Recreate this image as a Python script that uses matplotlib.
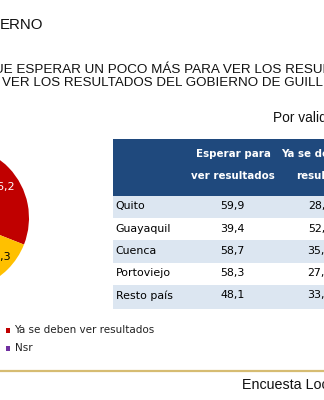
import matplotlib
matplotlib.use("Agg")
import matplotlib.pyplot as plt
from matplotlib.patches import Rectangle
import numpy as np

# ---- data ----
pie_labels = ["Ya se deben ver resultados", "Nsr", "Esperar para ver resultados"]
pie_values = [36.2, 11.5, 52.3]
pie_colors = ["#C00000", "#7030A0", "#FFC000"]

cities = ["Quito", "Guayaquil", "Cuenca", "Portoviejo", "Resto país"]
esperar = [59.9, 39.4, 58.7, 58.3, 48.1]
ya_deben = [28.4, 52.1, 35.6, 27.8, 33.9]
col_headers = [("Esperar para", "ver resultados"), ("Ya se deben ver", "resultados")]

legend_items = [("Ya se deben ver resultados", "#C00000"), ("Nsr", "#7030A0")]

W, H = 324, 400
fig = plt.figure(figsize=(W / 100, H / 100), dpi=100)
ax = fig.add_axes([0, 0, 1, 1])
ax.set_xlim(0, W)
ax.set_ylim(H, 0)
ax.axis("off")

arial = "Liberation Sans"
tah = "DejaVu Sans"

# ---- titles ----
ax.text(0, 25, "ERNO", family=arial, fontsize=10.8, ha="left", va="center", color="#111111")
ax.text(-6, 70, "UE ESPERAR UN POCO MÁS PARA VER LOS RESULTADOS", family=arial,
        fontsize=9.7, ha="left", va="center", color="#111111")
ax.text(2, 83.5, "VER LOS RESULTADOS DEL GOBIERNO DE GUILLERMO LASSO?", family=arial,
        fontsize=9.6, ha="left", va="center", color="#111111")
ax.text(273, 118, "Por validos", family=arial, fontsize=9.9, ha="left", va="center",
        color="#111111")

# ---- pie (partially off the figure) ----
cx, cy, r = -43.5, 218, 72.5
pax = fig.add_axes([(cx - r) / W, (H - cy - r) / H, 2 * r / W, 2 * r / H])
wedges, _ = pax.pie(pie_values, colors=pie_colors, startangle=-21.5, counterclock=True,
                    radius=1, wedgeprops=dict(linewidth=0))
pax.set_xlim(-1, 1)
pax.set_ylim(-1, 1)
pax.set_aspect("auto")
pax.axis("off")
label_pos = {0: (34.3, 0.76, "white"), 2: (-43.2, 0.79, "black")}
for i, (ang, rr, col) in label_pos.items():
    a = np.deg2rad(ang)
    pax.text(rr * np.cos(a), rr * np.sin(a), f"{pie_values[i]:.1f}".replace(".", ","),
             family=tah, fontsize=8, ha="center", va="center", color=col)

# ---- table ----
tx0 = 113
hdr_top, hdr_bot = 139, 196
row_h = 22.2
ax.add_patch(Rectangle((tx0, hdr_top), W + 20 - tx0, hdr_bot - hdr_top,
                       facecolor="#1F497D", edgecolor="none"))
hdr_centers = [233, 327]
for (l1, l2), xc in zip(col_headers, hdr_centers):
    ax.text(xc, 154, l1, family=tah, fontsize=7.4, fontweight="bold", color="white",
            ha="center", va="center")
    ax.text(xc, 176, l2, family=tah, fontsize=7.4, fontweight="bold", color="white",
            ha="center", va="center")

for i, (c, v1, v2) in enumerate(zip(cities, esperar, ya_deben)):
    y0 = hdr_bot + i * row_h
    if i % 2 == 0:
        ax.add_patch(Rectangle((tx0, y0), W + 20 - tx0, row_h + (1.5 if i == 4 else 0),
                               facecolor="#DCE6F1", edgecolor="none"))
    yc = y0 + 10.5
    ax.text(115.5, yc, c, family=tah, fontsize=7.9, ha="left", va="center", color="#000000")
    ax.text(245, yc, f"{v1:.1f}".replace(".", ","), family=tah, fontsize=7.9,
            ha="right", va="center", color="#000000")
    ax.text(332, yc, f"{v2:.1f}".replace(".", ","), family=tah, fontsize=7.9,
            ha="right", va="center", color="#000000", clip_on=False)

# ---- legend ----
for j, (lab, col) in enumerate(legend_items):
    yc = 330 + j * 18
    ax.add_patch(Rectangle((5.5, yc - 2.5), 4.5, 5, facecolor=col, edgecolor="none"))
    ax.text(14.5, yc, lab, family=tah, fontsize=7.5, ha="left", va="center", color="#222222")

# ---- footer ----
ax.plot([0, W], [371, 371], color="#D6BC72", linewidth=1.6, solid_capstyle="butt")
ax.text(241.5, 385, "Encuesta Local", family=arial, fontsize=10.3, ha="left", va="center",
        color="#111111")

fig.savefig("out.png", dpi=100)
